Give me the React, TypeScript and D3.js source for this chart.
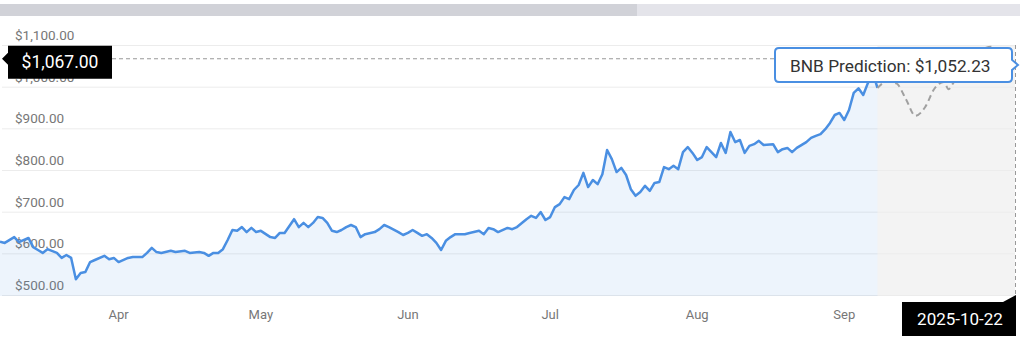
import { useEffect, useRef } from 'react';
import * as d3 from 'd3';

// BNB daily close
const priceDates = [
  '2025-03-07', '2025-03-08', '2025-03-10', '2025-03-11', '2025-03-13', '2025-03-14', '2025-03-15', '2025-03-16',
  '2025-03-17', '2025-03-19', '2025-03-20', '2025-03-21', '2025-03-22', '2025-03-23', '2025-03-24', '2025-03-25',
  '2025-03-26', '2025-03-27', '2025-03-29', '2025-03-30', '2025-03-31', '2025-04-01', '2025-04-03', '2025-04-04',
  '2025-04-06', '2025-04-07', '2025-04-08', '2025-04-09', '2025-04-10', '2025-04-12', '2025-04-13', '2025-04-15',
  '2025-04-16', '2025-04-18', '2025-04-19', '2025-04-20', '2025-04-21', '2025-04-22', '2025-04-23', '2025-04-24',
  '2025-04-25', '2025-04-26', '2025-04-27', '2025-04-28', '2025-04-29', '2025-04-30', '2025-05-01', '2025-05-03',
  '2025-05-04', '2025-05-05', '2025-05-06', '2025-05-08', '2025-05-09', '2025-05-10', '2025-05-11', '2025-05-12',
  '2025-05-13', '2025-05-14', '2025-05-15', '2025-05-16', '2025-05-17', '2025-05-18', '2025-05-19', '2025-05-20',
  '2025-05-21', '2025-05-22', '2025-05-23', '2025-05-25', '2025-05-26', '2025-05-27', '2025-05-28', '2025-05-30',
  '2025-05-31', '2025-06-01', '2025-06-02', '2025-06-03', '2025-06-04', '2025-06-05', '2025-06-06', '2025-06-07',
  '2025-06-08', '2025-06-09', '2025-06-10', '2025-06-11', '2025-06-13', '2025-06-14', '2025-06-16', '2025-06-17',
  '2025-06-18', '2025-06-19', '2025-06-20', '2025-06-22', '2025-06-23', '2025-06-24', '2025-06-26', '2025-06-27',
  '2025-06-28', '2025-06-29', '2025-06-30', '2025-07-01', '2025-07-02', '2025-07-03', '2025-07-04', '2025-07-05',
  '2025-07-06', '2025-07-07', '2025-07-08', '2025-07-09', '2025-07-10', '2025-07-11', '2025-07-12', '2025-07-13',
  '2025-07-14', '2025-07-15', '2025-07-16', '2025-07-17', '2025-07-18', '2025-07-19', '2025-07-20', '2025-07-21',
  '2025-07-22', '2025-07-23', '2025-07-24', '2025-07-25', '2025-07-26', '2025-07-27', '2025-07-28', '2025-07-29',
  '2025-07-30', '2025-07-31', '2025-08-01', '2025-08-02', '2025-08-03', '2025-08-04', '2025-08-05', '2025-08-06',
  '2025-08-07', '2025-08-08', '2025-08-09', '2025-08-10', '2025-08-11', '2025-08-12', '2025-08-13', '2025-08-14',
  '2025-08-15', '2025-08-17', '2025-08-18', '2025-08-19', '2025-08-20', '2025-08-21', '2025-08-22', '2025-08-24',
  '2025-08-25', '2025-08-26', '2025-08-27', '2025-08-28', '2025-08-29', '2025-08-30', '2025-08-31', '2025-09-01',
  '2025-09-02', '2025-09-03', '2025-09-04', '2025-09-05', '2025-09-06', '2025-09-07', '2025-09-08',
];

const priceValues = [
  628, 625, 639, 627, 637, 615, 608, 601,
  610, 601, 589, 596, 589, 538, 553, 555,
  579, 584, 594, 586, 589, 579, 589, 591,
  591, 601, 613, 603, 601, 606, 603, 606,
  601, 603, 601, 594, 601, 601, 610, 632,
  656, 654, 663, 651, 661, 651, 654, 639,
  637, 649, 649, 682, 663, 673, 663, 673,
  687, 685, 673, 654, 651, 656, 663, 668,
  663, 639, 646, 651, 658, 668, 663, 651,
  644, 649, 656, 649, 642, 646, 637, 625,
  608, 630, 639, 646, 646, 649, 654, 646,
  661, 658, 651, 661, 658, 663, 682, 690,
  685, 699, 680, 687, 711, 718, 735, 730,
  752, 764, 793, 759, 776, 766, 790, 848,
  826, 795, 805, 788, 754, 738, 747, 762,
  750, 769, 771, 807, 802, 810, 802, 843,
  855, 841, 824, 831, 855, 843, 831, 865,
  841, 891, 867, 872, 841, 858, 862, 870,
  860, 862, 843, 850, 853, 843, 853, 867,
  877, 882, 886, 898, 913, 932, 937, 920,
  944, 985, 996, 980, 1009, 1035, 997,
];

// prediction path
const predictionDates = [
  '2025-09-08', '2025-09-10', '2025-09-12', '2025-09-14', '2025-09-16', '2025-09-18', '2025-09-20', '2025-09-22',
  '2025-09-23', '2025-09-24', '2025-09-26', '2025-09-28', '2025-09-30', '2025-10-02', '2025-10-04', '2025-10-07',
];
const predictionValues = [997, 1012, 1008, 970, 930, 950, 995, 1011, 994, 1009, 1040, 1068, 1088, 1096, 1080, 1052.23];

const yTicks = [500, 600, 700, 800, 900, 1000, 1100];
const monthTicks = ['2025-04-01', '2025-05-01', '2025-06-01', '2025-07-01', '2025-08-01', '2025-09-01'];
const xDomain = ['2025-03-07', '2025-10-07'];

const hoverPrice = 1067;
const hoverDateLabel = '2025-10-22';
const tooltipText = 'BNB Prediction: $1,052.23';

export default function App() {
  const svgRef = useRef(null);

  useEffect(() => {
    if (!svgRef.current) return;
    const svg = d3.select(svgRef.current);
    svg.selectAll('*').remove();

    const parse = d3.timeParse('%Y-%m-%d');
    const plotRight = 1015;
    const plotTop = 45;
    const plotBottom = 295;

    const x = d3.scaleTime()
      .domain(xDomain.map(parse))
      .range([0, plotRight]);
    const y = d3.scaleLinear()
      .domain([500, 1100])
      .range([plotBottom, plotTop]);

    const actual = priceDates.map((d, i) => ({ date: parse(d), value: priceValues[i] }));
    const forecast = predictionDates.map((d, i) => ({ date: parse(d), value: predictionValues[i] }));
    const fmt = d3.format(',.2f');
    const font = 'Roboto, "Noto Sans", sans-serif';

    // navigator scrollbar at the top
    svg.append('rect').attr('x', 0).attr('y', 4).attr('width', 1020).attr('height', 12).attr('fill', '#e4e4ea');
    svg.append('rect').attr('x', 0).attr('y', 4).attr('width', 637).attr('height', 12).attr('fill', '#d1d2d8');

    // forecast band
    const lastActual = actual[actual.length - 1];
    svg.append('rect')
      .attr('x', x(lastActual.date))
      .attr('y', plotTop)
      .attr('width', plotRight - x(lastActual.date))
      .attr('height', plotBottom - plotTop + 1)
      .attr('fill', '#f3f3f3');

    // gridlines
    svg.append('g')
      .selectAll('line')
      .data(yTicks)
      .enter()
      .append('line')
      .attr('x1', 2)
      .attr('x2', plotRight)
      .attr('y1', d => y(d) + 0.5)
      .attr('y2', d => y(d) + 0.5)
      .attr('stroke', '#ececec');

    // y labels
    svg.append('g')
      .selectAll('text')
      .data(yTicks)
      .enter()
      .append('text')
      .attr('x', 15)
      .attr('y', d => y(d) - 5)
      .style('font-family', font)
      .style('font-size', '13.5px')
      .style('fill', '#777')
      .text(d => '$' + fmt(d));

    // x labels
    svg.append('g')
      .selectAll('text')
      .data(monthTicks.map(parse))
      .enter()
      .append('text')
      .attr('x', d => x(d))
      .attr('y', 319)
      .attr('text-anchor', 'middle')
      .style('font-family', font)
      .style('font-size', '13px')
      .style('fill', '#777')
      .text(d => d3.timeFormat('%b')(d));

    // area + line
    const area = d3.area()
      .x(d => x(d.date))
      .y0(plotBottom + 1)
      .y1(d => y(d.value));
    svg.append('path')
      .datum(actual)
      .attr('d', area)
      .attr('fill', '#4a8fe2')
      .attr('fill-opacity', 0.1);

    const line = d3.line()
      .x(d => x(d.date))
      .y(d => y(d.value));
    svg.append('path')
      .datum(actual)
      .attr('d', line)
      .attr('fill', 'none')
      .attr('stroke', '#4a8fe2')
      .attr('stroke-width', 2.5)
      .attr('stroke-linejoin', 'round');

    const predLine = d3.line()
      .x(d => x(d.date))
      .y(d => y(d.value))
      .curve(d3.curveMonotoneX);
    svg.append('path')
      .datum(forecast)
      .attr('d', predLine)
      .attr('fill', 'none')
      .attr('stroke', '#a0a0a0')
      .attr('stroke-width', 2)
      .attr('stroke-dasharray', '6,4');

    // crosshairs
    const hoverX = x(forecast[forecast.length - 1].date);
    const hoverY = y(hoverPrice);
    svg.append('line')
      .attr('x1', 112).attr('x2', hoverX)
      .attr('y1', hoverY).attr('y2', hoverY)
      .attr('stroke', '#999').attr('stroke-dasharray', '4,3');
    svg.append('line')
      .attr('x1', hoverX + 0.5).attr('x2', hoverX + 0.5)
      .attr('y1', plotTop).attr('y2', plotBottom)
      .attr('stroke', '#999').attr('stroke-dasharray', '4,3');

    // y crosshair label
    const yl = svg.append('g');
    yl.append('path')
      .attr('d', `M2,${hoverY} L8,${hoverY - 6} L8,${hoverY - 13} L112,${hoverY - 13} L112,${hoverY + 20} L8,${hoverY + 20} L8,${hoverY + 6} Z`)
      .attr('fill', '#000');
    yl.append('text')
      .attr('x', 60).attr('y', hoverY + 9)
      .attr('text-anchor', 'middle')
      .style('font-family', font).style('font-size', '17.5px').style('fill', '#fff')
      .text('$' + fmt(hoverPrice));

    // x crosshair label
    const xl = svg.append('g');
    xl.append('path')
      .attr('d', `M${hoverX - 113},302 L${hoverX - 12},302 L${hoverX + 1},295 L${hoverX + 1},336 L${hoverX - 113},336 Z`)
      .attr('fill', '#000');
    xl.append('text')
      .attr('x', hoverX - 55).attr('y', 325)
      .attr('text-anchor', 'middle')
      .style('font-family', font).style('font-size', '17px').style('fill', '#fff')
      .text(hoverDateLabel);

    // tooltip
    const tip = svg.append('g');
    const tipY = y(forecast[forecast.length - 1].value);
    tip.append('path')
      .attr('d', `M779,48 L${hoverX - 7},48 Q${hoverX - 3},48 ${hoverX - 3},52 L${hoverX - 3},${tipY - 5} L${hoverX + 3},${tipY} L${hoverX - 3},${tipY + 5} L${hoverX - 3},78 Q${hoverX - 3},82 ${hoverX - 7},82 L779,82 Q775,82 775,78 L775,52 Q775,48 779,48 Z`)
      .attr('fill', '#fff')
      .attr('stroke', '#4a8fe2')
      .attr('stroke-width', 2);
    tip.append('text')
      .attr('x', 790).attr('y', 72)
      .style('font-family', font).style('font-size', '17.3px').style('fill', '#333')
      .text(tooltipText);
  }, []);

  return (
    <svg
      ref={svgRef}
      width={1024}
      height={352}
      style={{ position: 'absolute', left: 0, top: 0, background: '#fff' }}
    />
  );
}
